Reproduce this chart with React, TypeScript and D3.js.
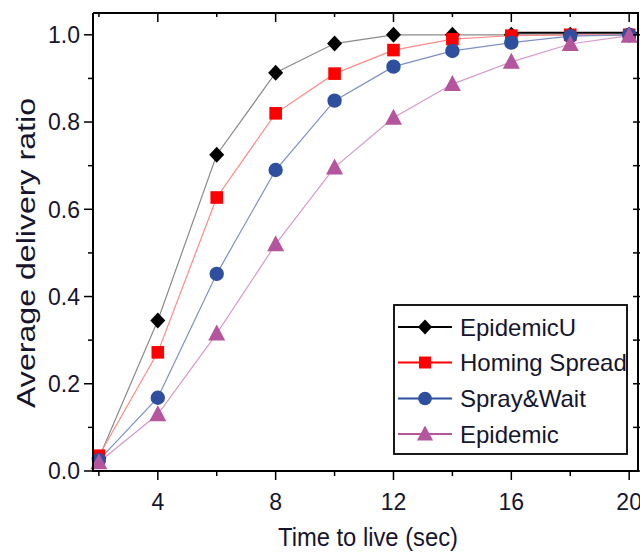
import React from "react";
import * as d3 from "d3";

const ttl = [2, 4, 6, 8, 10, 12, 14, 16, 18, 20];
const epidemicU = [0.03, 0.345, 0.725, 0.913, 0.98, 1.0, 1.0, 1.0, 1.0, 1.0];
const homingSpread = [0.035, 0.272, 0.627, 0.82, 0.911, 0.965, 0.99, 0.998, 1.0, 1.0];
const sprayWait = [0.025, 0.168, 0.452, 0.69, 0.849, 0.927, 0.963, 0.982, 0.997, 1.0];
const epidemic = [0.02, 0.13, 0.315, 0.52, 0.696, 0.81, 0.887, 0.938, 0.979, 0.998];

const seriesNames = ["EpidemicU", "Homing Spread", "Spray&Wait", "Epidemic"];
const xTickLabels = [4, 8, 12, 16, 20];
const yTickLabels = [0, 0.2, 0.4, 0.6, 0.8, 1.0];

const W = 640;
const H = 554;
const L = 93, R = 638, T = 13, B = 471;

const x = d3.scaleLinear().domain([1.8, 20.3]).range([L, R]);
const y = d3.scaleLinear().domain([0, 1.05]).range([B, T]);

const colors = ["#000000", "#ff0000", "#2d4f9e", "#b4559e"];
const lineColors = ["#8a8a8a", "#ff8a8a", "#7d90c4", "#d49acb"];
const shapes = ["diamond", "square", "circle", "triangle"];
const data = [epidemicU, homingSpread, sprayWait, epidemic];

function Marker({ shape, cx, cy, color, s = 1 }) {
  if (shape === "diamond") {
    const a = 7.5 * s, b = 8 * s;
    return <path d={`M${cx},${cy - b}L${cx + a},${cy}L${cx},${cy + b}L${cx - a},${cy}Z`} fill={color} />;
  }
  if (shape === "square") {
    const h = 6.3 * s;
    return <rect x={cx - h} y={cy - h} width={2 * h} height={2 * h} fill={color} />;
  }
  if (shape === "circle") {
    return <circle cx={cx} cy={cy} r={7.2 * s} fill={color} />;
  }
  const w = 8.5 * s, hh = 8 * s;
  return <path d={`M${cx},${cy - hh - 1}L${cx + w},${cy + hh - 1}L${cx - w},${cy + hh - 1}Z`} fill={color} />;
}

export default function App() {
  const line = d3
    .line<number>()
    .x((_, i) => x(ttl[i]))
    .y((d) => y(d))
    .curve(d3.curveLinear);

  const xTicksAll = d3.range(2, 20.01, 2);
  const yTicksAll = d3.range(0, 1.001, 0.1);
  const textColor = "#15152e";
  const font = "Liberation Sans, Arial, sans-serif";

  const legendRows = [327, 362.5, 398.5, 434];

  return (
    <svg
      width={W}
      height={H}
      style={{ position: "absolute", left: 0, top: 0, background: "#fff" }}
      fontFamily={font}
    >
      <rect x={0} y={0} width={W} height={H} fill="#fff" />
      {/* lines */}
      {data.map((s, i) => (
        <path key={"l" + i} d={line(s) || ""} fill="none" stroke={lineColors[i]} strokeWidth={1.2} />
      ))}
      <line x1={x(15.8)} x2={R} y1={y(1.0) - 2} y2={y(1.0) - 2} stroke="#000" strokeWidth={2} />
      {/* markers */}
      {data.map((s, i) =>
        s.map((v, j) => (
          <Marker key={`m${i}-${j}`} shape={shapes[i]} cx={x(ttl[j])} cy={y(v)} color={colors[i]} />
        ))
      )}
      {/* frame */}
      <g stroke="#000" strokeWidth={2} fill="none">
        <line x1={L} x2={R + 1} y1={B} y2={B} />
        <line x1={L} x2={R + 1} y1={T} y2={T} />
        <line x1={L} x2={L} y1={T} y2={B + 1} />
        <line x1={R} x2={R} y1={T} y2={B + 1} />
      </g>
      {/* ticks */}
      <g stroke="#000" strokeWidth={1.5}>
        {xTicksAll.map((t, i) => {
          const major = i % 2 === 1;
          const px = x(t);
          return (
            <g key={"xt" + i}>
              <line x1={px} x2={px} y1={B} y2={B + (major ? 9 : 5)} />
              <line x1={px} x2={px} y1={T} y2={T + (major ? 9 : 4)} />
            </g>
          );
        })}
        {yTicksAll.map((t, i) => {
          const major = i % 2 === 0;
          const py = y(t);
          return (
            <g key={"yt" + i}>
              <line x1={L - (major ? 9 : 5)} x2={L} y1={py} y2={py} />
              <line x1={R - 5} x2={R + 5} y1={py} y2={py} />
            </g>
          );
        })}
      </g>
      {/* tick labels */}
      <g fill={textColor} fontSize={23}>
        {xTickLabels.map((t) => (
          <text key={"xl" + t} x={x(t)} y={510} textAnchor="middle">
            {t}
          </text>
        ))}
        {yTickLabels.map((t) => (
          <text key={"yl" + t} x={80} y={y(t) + 8.3} textAnchor="end">
            {t.toFixed(1)}
          </text>
        ))}
      </g>
      {/* axis titles */}
      <text
        x={368}
        y={546}
        textAnchor="middle"
        fontSize={26}
        fill={textColor}
        textLength={180}
        lengthAdjust="spacingAndGlyphs"
      >
        Time to live (sec)
      </text>
      <text
        transform={`translate(35,253) rotate(-90)`}
        textAnchor="middle"
        fontSize={25}
        fill={textColor}
        textLength={310}
        lengthAdjust="spacingAndGlyphs"
      >
        Average delivery ratio
      </text>
      {/* legend */}
      <rect x={394} y={305} width={233} height={149} fill="#fff" stroke="#000" strokeWidth={1.8} />
      {seriesNames.map((n, i) => (
        <g key={"lg" + i}>
          <line x1={398} x2={452} y1={legendRows[i]} y2={legendRows[i]} stroke={colors[i]} strokeWidth={2} />
          <Marker shape={shapes[i]} cx={425} cy={legendRows[i]} color={colors[i]} s={0.95} />
          <text x={460} y={legendRows[i] + 8.5} fontSize={24} fill={textColor}>
            {n}
          </text>
        </g>
      ))}
    </svg>
  );
}
